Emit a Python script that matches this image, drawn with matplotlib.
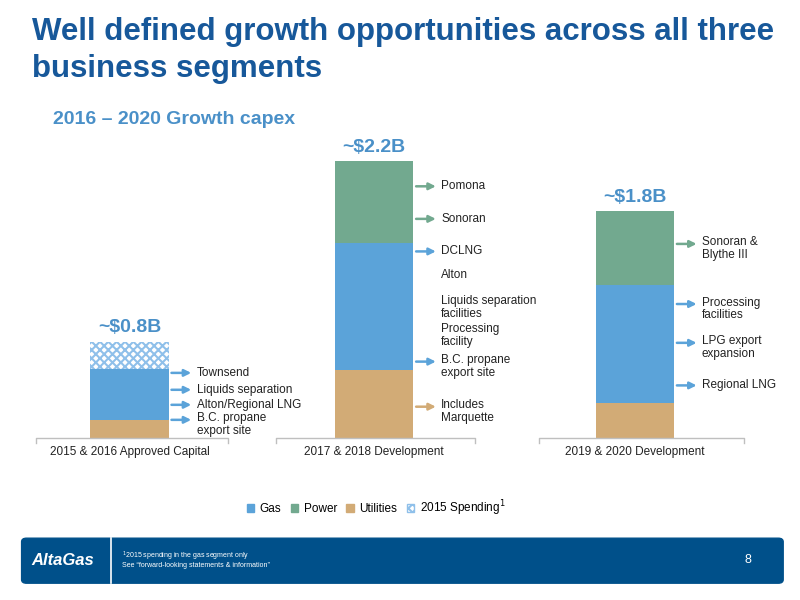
import matplotlib
matplotlib.use("Agg")
import matplotlib.pyplot as plt
from matplotlib.patches import Patch, FancyBboxPatch
import numpy as np

plt.rcParams['font.family'] = ['Liberation Sans', 'DejaVu Sans']

categories = ["2015 & 2016 Approved Capital", "2017 & 2018 Development", "2019 & 2020 Development"]
utilities = [0.14, 0.54, 0.28]
gas = [0.41, 1.02, 0.94]
power = [0.0, 0.65, 0.59]
spending_2015 = [0.22, 0.0, 0.0]
totals_lbl = ["~$0.8B", "~$2.2B", "~$1.8B"]

C_GAS, C_POW, C_UTL = '#5BA3D9', '#72A98F', '#D2AB76'
TITLE_C, SUB_C = '#17589A', '#4A90C8'

fig = plt.figure(figsize=(8, 6), dpi=100)
fig.text(0.04, 0.972, "Well defined growth opportunities across all three\nbusiness segments",
         fontsize=22.5, fontweight='bold', color=TITLE_C, va='top', linespacing=1.3)
fig.text(0.066, 0.80, "2016 – 2020 Growth capex", fontsize=14, fontweight='bold', color=SUB_C, va='center')

ax = fig.add_axes([0.004, 0.27, 0.995, 0.48])
ax.set_xlim(-0.5, 2.65)
ax.set_ylim(0, 2.3)
ax.axis('off')
x = np.array([0.0, 0.968, 2.0])
w = 0.31
u = np.array(utilities); g = np.array(gas); p = np.array(power); s = np.array(spending_2015)
ax.bar(x, u, w, color=C_UTL)
ax.bar(x, g, w, bottom=u, color=C_GAS)
ax.bar(x, p, w, bottom=u + g, color=C_POW)
plt.rcParams['hatch.linewidth'] = 1.5
ax.bar(x, s, w, bottom=u + g, color='white', hatch='xxxx', edgecolor='#8FC0EA', linewidth=0)

tot = u + g + p + s
for xi, t, lab in zip(x, tot, totals_lbl):
    ax.text(xi, t + 0.11, lab, ha='center', va='center', fontsize=14, fontweight='bold', color=SUB_C)

# baselines with end ticks
for i, (l, r) in enumerate([(-0.37, 0.39), (-0.39, 0.40), (-0.38, 0.43)]):
    xi = x[i]
    ax.plot([xi + l, xi + l, xi + r, xi + r], [-0.04, 0, 0, -0.04], color='#BFBFBF', lw=1, clip_on=False)
    ax.text(xi, -0.11, categories[i], ha='center', va='center', fontsize=8.5, color='#222222')

ann = [
    (0, 0.52, "Townsend", C_GAS), (0, 0.385, "Liquids separation", C_GAS),
    (0, 0.265, "Alton/Regional LNG", C_GAS), (0, 0.145, "B.C. propane\nexport site", C_GAS),
    (1, 2.01, "Pomona", C_POW), (1, 1.75, "Sonoran", C_POW), (1, 1.49, "DCLNG", C_GAS),
    (1, 1.30, "Alton", None), (1, 1.08, "Liquids separation\nfacilities", None),
    (1, 0.86, "Processing\nfacility", None), (1, 0.61, "B.C. propane\nexport site", C_GAS),
    (1, 0.25, "Includes\nMarquette", C_UTL),
    (2, 1.55, "Sonoran &\nBlythe III", C_POW), (2, 1.07, "Processing\nfacilities", C_GAS),
    (2, 0.76, "LPG export\nexpansion", C_GAS), (2, 0.42, "Regional LNG", C_GAS),
]
for i, y, txt, col in ann:
    xr = x[i] + w / 2
    va = 'top' if '\n' in txt else 'center'
    ty = y + 0.06 if '\n' in txt else y
    ax.text(xr + 0.11, ty, txt, fontsize=8.5, va=va, ha='left', color='#222222', linespacing=1.1)
    if col:
        ax.annotate('', xy=(xr + 0.1, y), xytext=(xr, y),
                    arrowprops=dict(arrowstyle='-|>', color=col, lw=1.8, mutation_scale=10))

handles = [Patch(color=C_GAS, label='Gas'), Patch(color=C_POW, label='Power'),
           Patch(color=C_UTL, label='Utilities'),
           Patch(facecolor='white', hatch='xxxx', edgecolor='#8FC0EA', label='2015 Spending$^1$')]
fig.legend(handles=handles, loc='center', bbox_to_anchor=(0.47, 0.153), ncol=4, frameon=False,
           fontsize=8.5, handlelength=0.6, handleheight=0.6, columnspacing=0.8, handletextpad=0.5)

# footer
fig.patches.append(FancyBboxPatch((0.027, 0.028), 0.952, 0.075, boxstyle='round,pad=0,rounding_size=0.006',
                                  transform=fig.transFigure, color='#00508A', zorder=0))
fig.add_artist(plt.Line2D([0.139, 0.139], [0.028, 0.103], color='white', lw=1.2, transform=fig.transFigure))
fig.text(0.078, 0.066, "AltaGas", color='white', fontsize=12, fontweight='bold', style='italic', ha='center', va='center')
fig.text(0.152, 0.073, "$^1$2015 spending in the gas segment only", color='white', fontsize=5, va='center')
fig.text(0.152, 0.057, "See \u201cforward-looking statements & information\u201d", color='white', fontsize=5, va='center')
fig.text(0.935, 0.066, "8", color='white', fontsize=9, va='center', ha='center')

fig.savefig('out.png', dpi=100)
